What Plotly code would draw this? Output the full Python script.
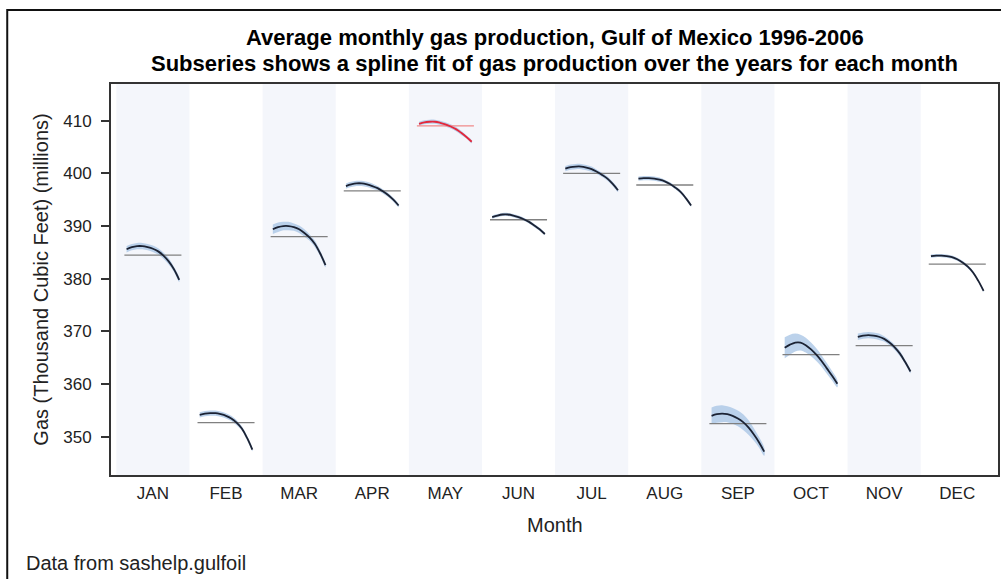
import plotly.graph_objects as go

# Months on the category axis
months = ["JAN", "FEB", "MAR", "APR", "MAY", "JUN",
          "JUL", "AUG", "SEP", "OCT", "NOV", "DEC"]
years = [1996, 1997, 1998, 1999, 2000, 2001, 2002, 2003, 2004, 2005, 2006]

# Spline fit of gas production (millions) for each month, one value per year
jan_fit = [385.6, 386.0, 386.2, 386.2, 386.0, 385.7, 385.2, 384.4, 383.3, 381.8, 379.8]
feb_fit = [354.2, 354.4, 354.5, 354.5, 354.3, 354.0, 353.5, 352.7, 351.6, 349.8, 347.6]
mar_fit = [389.4, 389.8, 390.0, 390.0, 389.8, 389.4, 388.7, 387.8, 386.6, 384.8, 382.6]
apr_fit = [397.6, 397.9, 398.1, 398.1, 397.9, 397.6, 397.2, 396.6, 395.9, 395.0, 393.9]
may_fit = [409.4, 409.7, 409.8, 409.8, 409.6, 409.3, 408.9, 408.4, 407.7, 406.9, 406.0]
jun_fit = [391.7, 392.0, 392.2, 392.2, 392.0, 391.7, 391.3, 390.8, 390.1, 389.4, 388.5]
jul_fit = [400.9, 401.2, 401.3, 401.3, 401.1, 400.8, 400.3, 399.7, 399.0, 398.0, 396.8]
aug_fit = [399.0, 399.1, 399.1, 399.0, 398.8, 398.5, 398.0, 397.3, 396.5, 395.3, 393.9]
sep_fit = [354.0, 354.3, 354.4, 354.3, 354.0, 353.5, 352.8, 351.8, 350.5, 349.0, 347.2]
oct_fit = [366.9, 367.5, 367.9, 367.9, 367.4, 366.6, 365.6, 364.4, 363.0, 361.6, 360.1]
nov_fit = [369.0, 369.2, 369.3, 369.2, 369.0, 368.6, 367.9, 367.0, 365.8, 364.2, 362.4]
dec_fit = [384.3, 384.4, 384.4, 384.3, 384.1, 383.7, 383.1, 382.3, 381.2, 379.6, 377.7]

# Average production for each month over all years
month_means = [384.5, 352.7, 388.0, 396.7, 409.0, 391.2,
               400.0, 397.8, 352.5, 365.6, 367.3, 382.8]

# Half-width of the confidence band around each fit, one value per year
jan_band = [0.6, 0.6, 0.6, 0.6, 0.6, 0.6, 0.6, 0.6, 0.6, 0.5, 0.4]
feb_band = [0.5, 0.5, 0.5, 0.5, 0.5, 0.5, 0.5, 0.5, 0.4, 0.4, 0.3]
mar_band = [0.9, 0.9, 0.8, 0.8, 0.7, 0.7, 0.7, 0.6, 0.6, 0.5, 0.4]
apr_band = [0.5, 0.5, 0.5, 0.5, 0.5, 0.5, 0.4, 0.4, 0.4, 0.4, 0.3]
may_band = [0.4, 0.4, 0.4, 0.4, 0.4, 0.4, 0.4, 0.4, 0.4, 0.3, 0.3]
jun_band = [0.3, 0.3, 0.3, 0.3, 0.3, 0.3, 0.3, 0.3, 0.3, 0.3, 0.2]
jul_band = [0.5, 0.5, 0.5, 0.5, 0.5, 0.5, 0.4, 0.4, 0.4, 0.4, 0.3]
aug_band = [0.4, 0.4, 0.4, 0.4, 0.4, 0.3, 0.3, 0.3, 0.3, 0.3, 0.2]
sep_band = [1.6, 1.6, 1.6, 1.5, 1.5, 1.5, 1.5, 1.4, 1.2, 1.0, 0.8]
oct_band = [2.0, 1.9, 1.7, 1.5, 1.4, 1.3, 1.2, 1.1, 1.0, 0.9, 0.7]
nov_band = [0.6, 0.6, 0.6, 0.6, 0.6, 0.5, 0.5, 0.5, 0.5, 0.4, 0.3]
dec_band = [0.3, 0.3, 0.3, 0.3, 0.3, 0.3, 0.3, 0.3, 0.3, 0.2, 0.2]

fits = [jan_fit, feb_fit, mar_fit, apr_fit, may_fit, jun_fit,
        jul_fit, aug_fit, sep_fit, oct_fit, nov_fit, dec_fit]
bands = [jan_band, feb_band, mar_band, apr_band, may_band, jun_band,
         jul_band, aug_band, sep_band, oct_band, nov_band, dec_band]

peak_month = month_means.index(max(month_means))

FONT = "Liberation Sans, Arial, sans-serif"
TEXT = "#222222"
FRAME = "#333333"
BAND_FILL = "rgba(165,195,228,0.75)"
CURVE = "#1b2233"
MEAN = "#808080"
PEAK_CURVE = "#e3283c"
PEAK_MEAN = "#f08a8a"

fig = go.Figure()

year_mid = years[len(years) // 2]
step = 0.072          # category units per year inside a month slot
mean_half = 0.39      # half-length of the mean reference line

for i, (name, fit, band) in enumerate(zip(months, fits, bands)):
    xs = [i + (y - year_mid) * step for y in years]
    upper = [v + h for v, h in zip(fit, band)]
    lower = [v - h for v, h in zip(fit, band)]
    # confidence band
    fig.add_trace(go.Scatter(
        x=xs + xs[::-1], y=upper + lower[::-1],
        fill="toself", fillcolor=BAND_FILL, line=dict(width=0, shape="spline"),
        mode="lines", hoverinfo="skip", showlegend=False))
    is_peak = i == peak_month
    # mean line
    fig.add_trace(go.Scatter(
        x=[i - mean_half, i + mean_half], y=[month_means[i]] * 2,
        mode="lines", line=dict(color=PEAK_MEAN if is_peak else MEAN, width=1.3),
        showlegend=False, name=f"{name} mean"))
    # spline fit
    fig.add_trace(go.Scatter(
        x=xs, y=fit, mode="lines",
        line=dict(color=PEAK_CURVE if is_peak else CURVE, width=1.8, shape="spline"),
        showlegend=False, name=name))

# alternating month stripes
shapes = []
for i in range(0, len(months), 2):
    shapes.append(dict(type="rect", xref="x", yref="paper",
                       x0=i - 0.5, x1=i + 0.5, y0=0, y1=1,
                       fillcolor="#f4f6fb", line=dict(width=0), layer="below"))

# outer frame of the graph
L, R, T, B = 111, 1000, 84, 475
W, H = R - L, B - T

def px_x(p):
    return (p - L) / W

def px_y(p):
    return (B - p) / H

shapes.append(dict(type="rect", xref="paper", yref="paper",
                   x0=px_x(7), x1=px_x(1010), y0=px_y(10), y1=px_y(600),
                   line=dict(color="#111111", width=2), fillcolor="rgba(0,0,0,0)",
                   layer="above"))

annotations = [
    dict(text="<b>Average monthly gas production, Gulf of Mexico 1996-2006</b>",
         xref="paper", yref="paper", x=0.5, y=px_y(38), xanchor="center", yanchor="middle",
         showarrow=False, font=dict(family=FONT, size=22, color="#000000")),
    dict(text="<b>Subseries shows a spline fit of gas production over the years for each month</b>",
         xref="paper", yref="paper", x=0.5, y=px_y(63), xanchor="center", yanchor="middle",
         showarrow=False, font=dict(family=FONT, size=22, color="#000000")),
    dict(text="Gas (Thousand Cubic Feet) (millions)", textangle=-90,
         xref="paper", yref="paper", x=px_x(40), y=0.5, xanchor="center", yanchor="middle",
         showarrow=False, font=dict(family=FONT, size=20, color=TEXT)),
    dict(text="Month", xref="paper", yref="paper", x=0.5, y=px_y(525),
         xanchor="center", yanchor="middle",
         showarrow=False, font=dict(family=FONT, size=20, color=TEXT)),
    dict(text="Data from sashelp.gulfoil", xref="paper", yref="paper",
         x=px_x(24), y=px_y(563), xanchor="left", yanchor="middle",
         showarrow=False, font=dict(family=FONT, size=20, color=TEXT)),
]

fig.update_layout(
    width=1001, height=579,
    margin=dict(l=L, r=1001 - R, t=T, b=579 - B, pad=0),
    paper_bgcolor="white", plot_bgcolor="white",
    font=dict(family=FONT, color=TEXT),
    shapes=shapes, annotations=annotations,
    showlegend=False,
)

fig.update_xaxes(
    range=[-0.573, 11.557],
    tickmode="array", tickvals=list(range(len(months))), ticktext=months,
    ticks="", ticklabelstandoff=2,
    tickfont=dict(family=FONT, size=17, color=TEXT),
    showgrid=False, zeroline=False,
    showline=True, mirror=True, linecolor=FRAME, linewidth=2,
)
fig.update_yaxes(
    range=[342.77, 416.96],
    tickmode="array", tickvals=[350, 360, 370, 380, 390, 400, 410],
    ticks="outside", ticklen=8, tickwidth=1.5, tickcolor=FRAME,
    ticklabelstandoff=6,
    tickfont=dict(family=FONT, size=17, color=TEXT),
    showgrid=False, zeroline=False,
    showline=True, mirror=True, linecolor=FRAME, linewidth=2,
)

fig.write_html("out.html")
